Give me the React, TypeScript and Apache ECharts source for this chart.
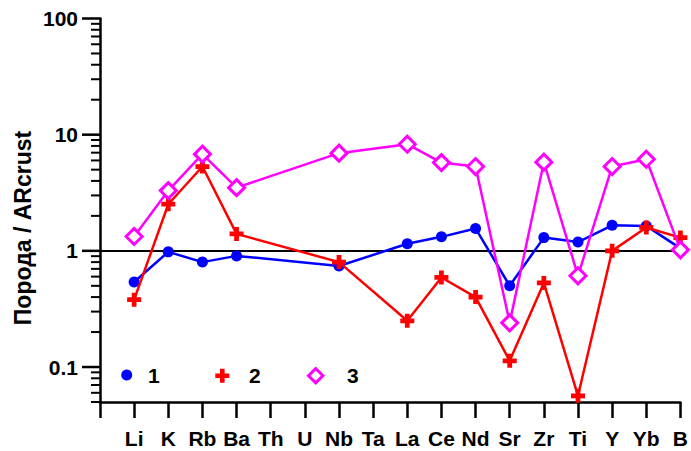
import React, { useEffect, useRef } from "react";
import * as echarts from "echarts";

const xCategories = ["Li", "K", "Rb", "Ba", "Th", "U", "Nb", "Ta", "La", "Ce", "Nd", "Sr", "Zr", "Ti", "Y", "Yb", "B"];
const series1 = [0.54, 0.98, 0.8, 0.905, null, null, 0.74, null, 1.15, 1.32, 1.56, 0.5, 1.3, 1.19, 1.66, 1.64, 1.05];
const series2 = [0.38, 2.52, 5.32, 1.4, null, null, 0.8, null, 0.25, 0.59, 0.4, 0.113, 0.53, 0.0565, 1.0, 1.59, 1.3];
const series3 = [1.33, 3.3, 6.8, 3.5, null, null, 6.93, null, 8.28, 5.75, 5.32, 0.24, 5.8, 0.61, 5.32, 6.15, 1.02];
const seriesNames = ["1", "2", "3"];
const yMajorTicks = [0.1, 1, 10, 100];
const yMajorLabels = ["0.1", "1", "10", "100"];
const yMinorTicks = [
  0.05, 0.06, 0.07, 0.08, 0.09,
  0.2, 0.3, 0.4, 0.5, 0.6, 0.7, 0.8, 0.9,
  2, 3, 4, 5, 6, 7, 8, 9,
  20, 30, 40, 50, 60, 70, 80, 90,
];
const yTitle = "Порода / ARcrust";

const FONT = "'Liberation Sans', Arial, Helvetica, sans-serif";
const PLUS = "path://M3.3,0H6.7V3.3H10V6.7H6.7V10H3.3V6.7H0V3.3H3.3Z";

function toData(arr: (number | null)[]) {
  return arr
    .map((v, i) => (v == null ? null : [i + 1, v]))
    .filter((d) => d !== null) as number[][];
}

function tickSeries(values: number[], len: number, width: number) {
  return {
    type: "custom",
    silent: true,
    clip: false,
    z: 5,
    data: values.map((v) => [0, v]),
    encode: { x: 0, y: 1 },
    renderItem: (params: any, api: any) => {
      const p = api.coord([0, api.value(1)]);
      return {
        type: "line",
        shape: { x1: p[0] - len, y1: p[1], x2: p[0], y2: p[1] },
        style: { stroke: "#000", lineWidth: width },
      };
    },
  };
}

export default function App() {
  const ref = useRef<HTMLDivElement>(null);
  useEffect(() => {
    if (!ref.current) return;
    const chart = echarts.init(ref.current, null, { renderer: "svg" });
    chart.setOption({
      animation: false,
      backgroundColor: "#fff",
      grid: { left: 100, right: 5, top: 18.5, bottom: 49, containLabel: false },
      xAxis: {
        type: "value",
        min: 0,
        max: 17,
        interval: 1,
        axisLine: { lineStyle: { color: "#000", width: 2.5 } },
        axisTick: { show: true, inside: false, length: 16, lineStyle: { color: "#000", width: 2.5 } },
        splitLine: { show: false },
        axisLabel: {
          margin: 26,
          fontFamily: FONT,
          fontWeight: "bold",
          fontSize: 21,
          color: "#000",
          formatter: (v: number) => xCategories[Math.round(v) - 1] ?? "",
        },
      },
      yAxis: {
        type: "log",
        logBase: 10,
        min: 0.05,
        max: 100,
        axisLine: { show: true, lineStyle: { color: "#000", width: 2.5 } },
        axisTick: { show: false },
        splitLine: { show: false },
        minorTick: { show: false },
        axisLabel: {
          margin: 22,
          fontFamily: FONT,
          fontWeight: "bold",
          fontSize: 21,
          color: "#000",
          showMinLabel: true,
          formatter: (v: number) => {
            const i = yMajorTicks.findIndex((t) => Math.abs(Math.log10(t) - Math.log10(v)) < 1e-6);
            return i >= 0 ? yMajorLabels[i] : "";
          },
        },
      },
      series: [
        {
          name: seriesNames[0],
          type: "line",
          data: toData(series1),
          symbol: "circle",
          symbolSize: 11,
          itemStyle: { color: "#0000FF" },
          lineStyle: { color: "#0000FF", width: 2.5 },
          z: 2,
          markLine: {
            silent: true,
            symbol: ["none", "none"],
            label: { show: false },
            lineStyle: { color: "#000", width: 2, type: "solid" },
            data: [{ yAxis: 1 }],
            z: 1,
          },
        },
        {
          name: seriesNames[1],
          type: "line",
          data: toData(series2),
          symbol: PLUS,
          symbolSize: 14,
          itemStyle: { color: "#FF0000" },
          lineStyle: { color: "#FF0000", width: 2.5 },
          z: 3,
        },
        {
          name: seriesNames[2],
          type: "line",
          data: toData(series3),
          symbol: "diamond",
          symbolSize: 16,
          itemStyle: { color: "#FFFFFF", borderColor: "#FF00FF", borderWidth: 3 },
          lineStyle: { color: "#FF00FF", width: 2.5 },
          z: 4,
        },
        tickSeries(yMajorTicks, 18, 2.5),
        tickSeries(yMinorTicks, 9, 2),
      ],
      graphic: [
        {
          type: "text",
          x: 23,
          y: 228,
          rotation: Math.PI / 2,
          style: {
            text: yTitle,
            fontFamily: FONT,
            fontWeight: "bold",
            fontSize: 23,
            fill: "#000",
            textAlign: "center",
            textVerticalAlign: "middle",
          },
        },
        { type: "circle", shape: { cx: 126.7, cy: 375, r: 5.5 }, style: { fill: "#0000FF" } },
        {
          type: "polygon",
          shape: {
            points: [
              [220, 368.7], [224.6, 368.7], [224.6, 373.4], [229.3, 373.4], [229.3, 378], [224.6, 378],
              [224.6, 382.7], [220, 382.7], [220, 378], [215.3, 378], [215.3, 373.4], [220, 373.4],
            ],
          },
          style: { fill: "#FF0000" },
        },
        {
          type: "polygon",
          shape: { points: [[315.7, 368.5], [322.9, 375.7], [315.7, 382.9], [308.5, 375.7]] },
          style: { fill: "#fff", stroke: "#FF00FF", lineWidth: 3 },
        },
        { type: "text", x: 148, y: 375, style: { text: seriesNames[0], fontFamily: FONT, fontWeight: "bold", fontSize: 21, fill: "#000", textVerticalAlign: "middle" } },
        { type: "text", x: 249, y: 375, style: { text: seriesNames[1], fontFamily: FONT, fontWeight: "bold", fontSize: 21, fill: "#000", textVerticalAlign: "middle" } },
        { type: "text", x: 347, y: 375, style: { text: seriesNames[2], fontFamily: FONT, fontWeight: "bold", fontSize: 21, fill: "#000", textVerticalAlign: "middle" } },
      ],
    });
    return () => chart.dispose();
  }, []);
  return (
    <div
      ref={ref}
      style={{ position: "fixed", left: 0, top: 0, width: 691, height: 451, background: "#fff" }}
    />
  );
}
